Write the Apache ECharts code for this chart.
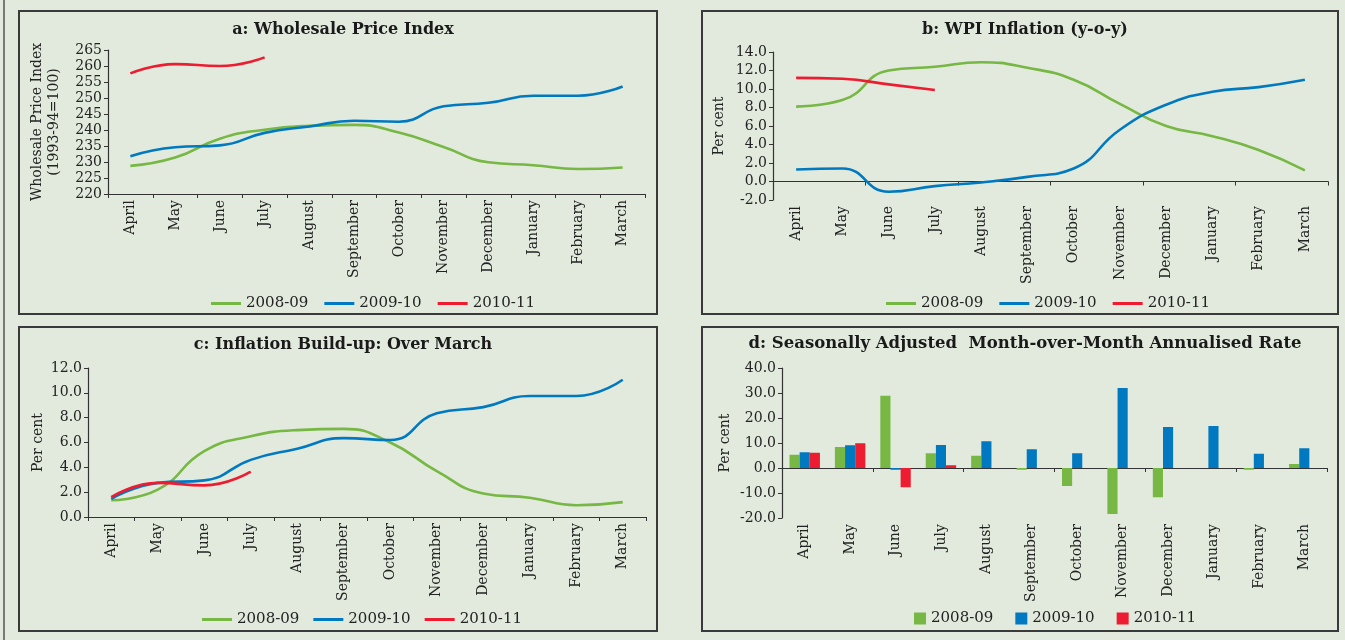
<!DOCTYPE html>
<html>
<head>
<meta charset="utf-8">
<script src="https://cdn.jsdelivr.net/npm/echarts@6/dist/echarts.min.js"></script>
<style>
  html, body { margin: 0; padding: 0; background: #e1eadd; }
  #chart { width: 1345px; height: 640px; }
</style>
</head>
<body>
<div id="chart"></div>
<script>
// data
const months = ['April', 'May', 'June', 'July', 'August', 'September', 'October',
    'November', 'December', 'January', 'February', 'March'];
const years = ['2008-09', '2009-10', '2010-11'];

// a: Wholesale Price Index
const wpi0809 = [228.8, 231.4, 237.3, 240.1, 241.3, 241.6, 239.2, 234.7, 229.9, 229.0, 227.8, 228.3];
const wpi0910 = [231.8, 234.6, 235.2, 239.1, 241.1, 242.9, 242.6, 247.4, 248.5, 250.7, 250.7, 253.6];
const wpi1011 = [257.7, 260.6, 260.0, 262.7];

// b: WPI inflation y-o-y
const yoy0809 = [8.1, 8.8, 12.0, 12.4, 12.9, 12.3, 11.0, 8.4, 6.0, 4.9, 3.4, 1.2];
const yoy0910 = [1.3, 1.4, -1.1, -0.5, -0.1, 0.5, 1.4, 5.6, 8.3, 9.7, 10.2, 11.0];
const yoy1011 = [11.2, 11.1, 10.5, 9.9];

// c: inflation build-up over March
const bld0809 = [1.35, 2.2, 5.3, 6.5, 7.0, 7.1, 6.0, 3.7, 1.9, 1.55, 0.95, 1.2];
const bld0910 = [1.45, 2.75, 2.95, 4.6, 5.5, 6.35, 6.2, 8.35, 8.85, 9.75, 9.75, 11.05];
const bld1011 = [1.6, 2.75, 2.55, 3.65];

// d: seasonally adjusted m-o-m annualised rate
const saar0809 = [5.3, 8.4, 28.9, 5.9, 4.9, -0.7, -7.2, -18.4, -11.7, 0, -0.7, 1.6];
const saar0910 = [6.3, 9.1, -0.7, 9.2, 10.7, 7.5, 5.9, 32.0, 16.4, 16.8, 5.7, 7.9];
const saar1011 = [6.1, 9.9, -7.7, 1.1];

const colors = ['#77b743', '#0079c1', '#ed1c30'];
const FONT = '"DejaVu Serif", "Liberation Serif", serif';
const INK = '#222';
const AXIS = '#333';

const chart = echarts.init(document.getElementById('chart'));

function catAxis(grid, opts) {
    return Object.assign({
        type: 'category',
        gridIndex: grid,
        data: months,
        boundaryGap: true,
        axisLine: { lineStyle: { color: AXIS, width: 1.2 } },
        axisTick: { show: true, length: 4, lineStyle: { color: AXIS } },
        axisLabel: { rotate: 90, fontFamily: FONT, fontSize: 14, color: INK, margin: 6 }
    }, opts || {});
}

function valAxis(grid, min, max, step, name, gap, fmt) {
    return {
        type: 'value',
        gridIndex: grid,
        min: min, max: max, interval: step,
        name: name,
        nameLocation: 'middle',
        nameGap: gap,
        nameTextStyle: { fontFamily: FONT, fontSize: 14, color: INK, lineHeight: 17 },
        splitLine: { show: false },
        axisLine: { show: true, lineStyle: { color: AXIS, width: 1.2 } },
        axisTick: { show: true, length: 4, lineStyle: { color: AXIS } },
        axisLabel: {
            fontFamily: FONT, fontSize: 14, color: INK, margin: 6,
            formatter: fmt
        }
    };
}

const oneDp = v => v.toFixed(1);

function lines(xi, yi, arrs) {
    return arrs.map((arr, i) => ({
        name: years[i],
        type: 'line',
        xAxisIndex: xi,
        yAxisIndex: yi,
        data: arr,
        smooth: true,
        symbol: 'none',
        lineStyle: { width: 2.6, color: colors[i] },
        itemStyle: { color: colors[i] }
    }));
}

// line legends: a thin 30x3 bar reads as the line swatch
function lineLegend(left, top, gap) {
    return {
        left: left, top: top,
        data: years,
        icon: 'rect',
        itemWidth: 30, itemHeight: 3, itemGap: gap,
        textStyle: { fontFamily: FONT, fontSize: 15, color: INK }
    };
}

function panel(x, y, w, h) {
    return {
        type: 'rect',
        shape: { x: x, y: y, width: w, height: h },
        style: { fill: 'none', stroke: '#3a3a3a', lineWidth: 2 },
        silent: true
    };
}

const titleStyle = { fontFamily: FONT, fontSize: 16, fontWeight: 'bold', color: '#1a1a1a' };

const option = {
    backgroundColor: '#e1eadd',
    animation: false,
    title: [
        { text: 'a: Wholesale Price Index', left: 338, top: 17, textAlign: 'center', textStyle: titleStyle },
        { text: 'b: WPI Inflation (y-o-y)', left: 1020, top: 17, textAlign: 'center', textStyle: titleStyle },
        { text: 'c: Inflation Build-up: Over March', left: 338, top: 332, textAlign: 'center', textStyle: titleStyle },
        { text: 'd: Seasonally Adjusted  Month-over-Month Annualised Rate', left: 1020, top: 330, textAlign: 'center',
          textStyle: Object.assign({}, titleStyle, { fontSize: 16.5 }) }
    ],
    legend: [
        lineLegend(206, 291, 16),
        lineLegend(881, 291, 16),
        lineLegend(197, 607, 14),
        {
            left: 909, top: 606,
            data: years,
            icon: 'rect',
            itemWidth: 12, itemHeight: 12, itemGap: 22,
            textStyle: { fontFamily: FONT, fontSize: 15, color: INK }
        }
    ],
    grid: [
        { left: 108, top: 50, width: 537, height: 144 },
        { left: 773, top: 52, width: 555, height: 148 },
        { left: 88, top: 368, width: 558, height: 149 },
        { left: 782, top: 368, width: 545, height: 150 }
    ],
    xAxis: [
        catAxis(0),
        catAxis(1, { axisLabel: { show: false }, axisLine: { onZero: true, lineStyle: { color: AXIS, width: 1.2 } } }),
        catAxis(1, { position: 'bottom', axisLine: { show: false, onZero: false }, axisTick: { show: false } }),
        catAxis(2),
        catAxis(3, { axisLabel: { show: false }, axisLine: { onZero: true, lineStyle: { color: AXIS, width: 1.2 } } }),
        catAxis(3, { position: 'bottom', axisLine: { show: false, onZero: false }, axisTick: { show: false } })
    ],
    yAxis: [
        valAxis(0, 220, 265, 5, 'Wholesale Price Index\n(1993-94=100)', 45),
        valAxis(1, -2, 14, 2, 'Per cent', 45, oneDp),
        valAxis(2, 0, 12, 2, 'Per cent', 41, oneDp),
        valAxis(3, -20, 40, 10, 'Per cent', 48, oneDp)
    ],
    series: [
        ...lines(0, 0, [wpi0809, wpi0910, wpi1011]),
        ...lines(1, 1, [yoy0809, yoy0910, yoy1011]),
        ...lines(3, 2, [bld0809, bld0910, bld1011]),
        ...[saar0809, saar0910, saar1011].map((arr, i) => ({
            name: years[i],
            type: 'bar',
            xAxisIndex: 4,
            yAxisIndex: 3,
            data: arr,
            barGap: '0%',
            barCategoryGap: '33%',
            itemStyle: { color: colors[i] }
        }))
    ],
    graphic: [
        panel(19, 11, 638, 303),
        panel(702, 11, 636, 303),
        panel(19, 327, 638, 304),
        panel(702, 327, 636, 304),
        {
            type: 'line',
            shape: { x1: 4, y1: 0, x2: 4, y2: 640 },
            style: { stroke: '#555', lineWidth: 1.5 },
            silent: true
        }
    ]
};

chart.setOption(option);
</script>
</body>
</html>
